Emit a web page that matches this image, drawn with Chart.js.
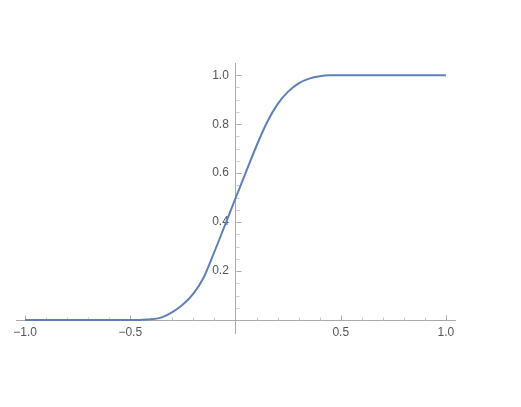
<!DOCTYPE html>
<html>
<head>
<meta charset="utf-8">
<script src="https://cdn.jsdelivr.net/npm/chart.js@4/dist/chart.umd.min.js"></script>
<style>
  html, body { margin: 0; padding: 0; background: #ffffff; }
  #wrap { width: 521px; height: 407px; position: relative; }
</style>
</head>
<body>
<div id="wrap"><canvas id="c" width="521" height="407"></canvas></div>
<script>
// ---- data ----
const xValues = [-1.0, -0.9, -0.8, -0.7, -0.6, -0.5, -0.45, -0.4, -0.35, -0.3, -0.25, -0.2, -0.15, -0.1, -0.05,
                 0.0, 0.05, 0.1, 0.15, 0.2, 0.25, 0.3, 0.35, 0.4, 0.45, 0.5, 0.6, 0.7, 0.8, 0.9, 1.0];
const yValues = [0, 0, 0, 0, 0, 0, 0.0005, 0.003, 0.011, 0.032, 0.063, 0.108, 0.176, 0.279, 0.388,
                 0.497, 0.605, 0.712, 0.808, 0.882, 0.933, 0.967, 0.986, 0.996, 0.9995, 1, 1, 1, 1, 1, 1];
const xMajorTicks = [-1.0, -0.5, 0.5, 1.0];
const xMinorTicks = [-0.9, -0.8, -0.7, -0.6, -0.4, -0.3, -0.2, -0.1, 0.1, 0.2, 0.3, 0.4, 0.6, 0.7, 0.8, 0.9];
const yMajorTicks = [0.2, 0.4, 0.6, 0.8, 1.0];
const yMinorTicks = [0.05, 0.1, 0.15, 0.25, 0.3, 0.35, 0.45, 0.5, 0.55, 0.65, 0.7, 0.75, 0.85, 0.9, 0.95];

const points = xValues.map((x, i) => ({ x: x, y: yValues[i] }));

function isMultiple(v, step) {
  const r = v / step;
  return Math.abs(r - Math.round(r)) < 1e-6;
}
function fmt(v) {
  const s = Math.abs(v).toFixed(1);
  return v < 0 ? '\u2212' + s : s;
}

const tickPlugin = {
  id: 'mmaTicks',
  beforeDatasetsDraw(chart) {
    const { ctx, scales: { x, y } } = chart;
    const x0 = x.getPixelForValue(0);
    const y0 = y.getPixelForValue(0);
    ctx.save();
    ctx.lineWidth = 1;
    const seg = (x1, y1, x2, y2, c) => {
      ctx.strokeStyle = c;
      ctx.beginPath(); ctx.moveTo(x1, y1); ctx.lineTo(x2, y2); ctx.stroke();
    };
    const ya = Math.round(y0) + 0.5, xa = Math.round(x0) + 0.5;
    xMajorTicks.forEach(v => { const p = Math.round(x.getPixelForValue(v)) + 0.5; seg(p, ya, p, ya - 5, '#a8a8a8'); });
    xMinorTicks.forEach(v => { const p = Math.round(x.getPixelForValue(v)) + 0.5; seg(p, ya, p, ya - 3, '#c8c8c8'); });
    yMajorTicks.forEach(v => { const p = Math.round(y.getPixelForValue(v)) + 0.5; seg(xa, p, xa + 5, p, '#a8a8a8'); });
    yMinorTicks.forEach(v => { const p = Math.round(y.getPixelForValue(v)) + 0.5; seg(xa, p, xa + 3, p, '#c8c8c8'); });
    ctx.restore();
  }
};

new Chart(document.getElementById('c'), {
  type: 'scatter',
  data: {
    datasets: [{
      data: points,
      showLine: true,
      borderColor: '#5E81B5',
      borderWidth: 2,
      pointRadius: 0,
      pointHoverRadius: 0,
      fill: false,
      cubicInterpolationMode: 'monotone'
    }]
  },
  options: {
    responsive: false,
    animation: false,
    events: [],
    layout: { padding: { left: 16, right: 66, top: 63, bottom: 74 } },
    plugins: { legend: { display: false }, tooltip: { enabled: false } },
    scales: {
      x: {
        type: 'linear',
        position: { y: 0 },
        min: -1.043,
        max: 1.043,
        afterFit: (s) => { s.height = 0; },
        border: { display: true, color: '#aaaaaa', width: 1 },
        grid: { display: true, drawOnChartArea: false, drawTicks: false },
        ticks: {
          stepSize: 0.5,
          includeBounds: false,
          padding: 5,
          color: '#555555',
          font: { family: 'Liberation Sans', size: 12 },
          maxRotation: 0,
          autoSkip: false,
          callback: (v) => (isMultiple(v, 0.5) && Math.abs(v) > 1e-9) ? fmt(v) : ''
        }
      },
      y: {
        type: 'linear',
        position: { x: 0 },
        min: -0.053,
        max: 1.05,
        afterFit: (s) => { s.width = 0; },
        border: { display: true, color: '#aaaaaa', width: 1 },
        grid: { display: true, drawOnChartArea: false, drawTicks: false },
        ticks: {
          stepSize: 0.2,
          includeBounds: false,
          padding: 6,
          color: '#555555',
          font: { family: 'Liberation Sans', size: 12 },
          autoSkip: false,
          callback: (v) => (isMultiple(v, 0.2) && Math.abs(v) > 1e-9) ? fmt(v) + '  ' : ''
        }
      }
    }
  },
  plugins: [tickPlugin]
});
</script>
</body>
</html>
